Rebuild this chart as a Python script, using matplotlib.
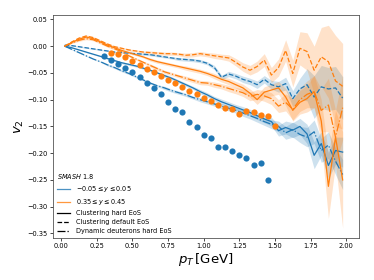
# -*- coding: utf-8 -*-
"""
v2 of deuterons vs pT, SMASH 1.8 clustering / dynamic deuterons
compared to data points at mid and forward rapidity
"""

import numpy as np
import matplotlib
matplotlib.use("Agg")
import matplotlib.pyplot as plt
from matplotlib.lines import Line2D

# pT bin centres of the model curves
pt = [0.025, 0.075, 0.125, 0.175, 0.225, 0.275, 0.325, 0.375, 0.425, 0.475,
      0.525, 0.575, 0.625, 0.675, 0.725, 0.775, 0.825, 0.875, 0.925, 0.975,
      1.025, 1.075, 1.125, 1.175, 1.225, 1.275, 1.325, 1.375, 1.425, 1.475,
      1.525, 1.575, 1.625, 1.675, 1.725, 1.775, 1.825, 1.875, 1.925, 1.975]

# mid rapidity (-0.05 < y < 0.05)
mid_hard = [0.000, -0.003, -0.007, -0.011, -0.015, -0.019, -0.023, -0.027, -0.031, -0.034,
            -0.037, -0.041, -0.045, -0.050, -0.055, -0.060, -0.066, -0.072, -0.078, -0.085,
            -0.091, -0.098, -0.104, -0.109, -0.114, -0.119, -0.124, -0.130, -0.136, -0.141,
            -0.158, -0.152, -0.157, -0.150, -0.164, -0.204, -0.182, -0.223, -0.195, -0.198]
mid_hard_err = [0.001, 0.001, 0.001, 0.001, 0.001, 0.001, 0.002, 0.002, 0.002, 0.002,
                0.002, 0.002, 0.002, 0.002, 0.003, 0.003, 0.003, 0.003, 0.003, 0.004,
                0.004, 0.004, 0.005, 0.005, 0.005, 0.006, 0.006, 0.007, 0.007, 0.008,
                0.010, 0.012, 0.014, 0.015, 0.018, 0.025, 0.022, 0.025, 0.025, 0.028]

mid_default = [0.002, 0.001, -0.001, -0.003, -0.005, -0.007, -0.009, -0.011, -0.012, -0.013,
               -0.014, -0.015, -0.016, -0.018, -0.020, -0.022, -0.024, -0.025, -0.026, -0.028,
               -0.032, -0.040, -0.058, -0.052, -0.056, -0.062, -0.066, -0.072, -0.062, -0.072,
               -0.076, -0.070, -0.098, -0.080, -0.072, -0.095, -0.076, -0.080, -0.078, -0.097]
mid_default_err = [0.001, 0.001, 0.001, 0.001, 0.001, 0.001, 0.001, 0.001, 0.001, 0.001,
                   0.002, 0.002, 0.002, 0.002, 0.002, 0.002, 0.003, 0.003, 0.003, 0.003,
                   0.003, 0.004, 0.004, 0.005, 0.005, 0.006, 0.006, 0.007, 0.007, 0.008,
                   0.010, 0.012, 0.015, 0.020, 0.030, 0.040, 0.040, 0.040, 0.040, 0.040]

mid_dyn = [0.000, -0.006, -0.012, -0.018, -0.024, -0.029, -0.035, -0.040, -0.046, -0.051,
           -0.057, -0.063, -0.069, -0.074, -0.078, -0.083, -0.087, -0.091, -0.096, -0.100,
           -0.104, -0.108, -0.112, -0.116, -0.120, -0.125, -0.130, -0.135, -0.141, -0.146,
           -0.150, -0.162, -0.156, -0.165, -0.170, -0.160, -0.195, -0.185, -0.215, -0.240]
mid_dyn_err = [0.001, 0.001, 0.001, 0.001, 0.001, 0.001, 0.002, 0.002, 0.002, 0.002,
               0.002, 0.002, 0.002, 0.002, 0.003, 0.003, 0.003, 0.003, 0.003, 0.004,
               0.004, 0.004, 0.005, 0.005, 0.005, 0.006, 0.006, 0.007, 0.007, 0.008,
               0.010, 0.012, 0.014, 0.015, 0.018, 0.022, 0.022, 0.025, 0.025, 0.028]

# forward rapidity (0.35 < y < 0.45)
fwd_hard = [0.000, 0.007, 0.013, 0.017, 0.014, 0.008, 0.002, -0.003, -0.008, -0.012,
            -0.016, -0.020, -0.025, -0.029, -0.032, -0.035, -0.038, -0.041, -0.044, -0.047,
            -0.051, -0.056, -0.062, -0.066, -0.072, -0.078, -0.088, -0.100, -0.086, -0.082,
            -0.078, -0.095, -0.120, -0.105, -0.098, -0.085, -0.140, -0.262, -0.170, -0.250]
fwd_hard_err = [0.001, 0.001, 0.002, 0.002, 0.002, 0.002, 0.002, 0.002, 0.002, 0.002,
                0.002, 0.002, 0.003, 0.003, 0.003, 0.003, 0.003, 0.004, 0.004, 0.004,
                0.004, 0.005, 0.005, 0.006, 0.006, 0.007, 0.008, 0.009, 0.010, 0.011,
                0.012, 0.016, 0.020, 0.022, 0.025, 0.030, 0.040, 0.060, 0.050, 0.090]

fwd_default = [0.000, 0.008, 0.015, 0.019, 0.016, 0.010, 0.004, -0.001, -0.004, -0.007,
               -0.009, -0.011, -0.012, -0.013, -0.014, -0.014, -0.015, -0.017, -0.016, -0.014,
               -0.016, -0.018, -0.020, -0.022, -0.030, -0.039, -0.045, -0.038, -0.026, -0.054,
               -0.040, -0.008, -0.051, -0.004, -0.010, -0.045, -0.020, -0.029, -0.065, -0.075]
fwd_default_err = [0.001, 0.001, 0.002, 0.002, 0.002, 0.002, 0.002, 0.002, 0.002, 0.002,
                   0.002, 0.002, 0.003, 0.003, 0.003, 0.003, 0.003, 0.004, 0.004, 0.004,
                   0.004, 0.005, 0.005, 0.006, 0.007, 0.008, 0.009, 0.010, 0.012, 0.014,
                   0.016, 0.020, 0.025, 0.031, 0.035, 0.045, 0.055, 0.068, 0.085, 0.080]

fwd_dyn = [0.000, 0.006, 0.011, 0.014, 0.012, 0.006, 0.000, -0.005, -0.010, -0.018,
           -0.024, -0.030, -0.036, -0.042, -0.048, -0.052, -0.056, -0.060, -0.064, -0.068,
           -0.069, -0.072, -0.075, -0.079, -0.083, -0.087, -0.094, -0.090, -0.093, -0.098,
           -0.112, -0.105, -0.118, -0.100, -0.090, -0.085, -0.120, -0.110, -0.170, -0.115]
fwd_dyn_err = [0.001, 0.001, 0.002, 0.002, 0.002, 0.002, 0.002, 0.002, 0.002, 0.002,
               0.002, 0.002, 0.003, 0.003, 0.003, 0.003, 0.003, 0.004, 0.004, 0.004,
               0.004, 0.005, 0.005, 0.006, 0.006, 0.007, 0.008, 0.009, 0.010, 0.011,
               0.012, 0.016, 0.020, 0.022, 0.025, 0.030, 0.040, 0.050, 0.050, 0.060]

# data points
pt_mid_data = [0.30, 0.35, 0.40, 0.45, 0.50, 0.55, 0.60, 0.65, 0.70, 0.75, 0.80, 0.85,
               0.90, 0.95, 1.00, 1.05, 1.10, 1.15, 1.20, 1.25, 1.30, 1.35, 1.40, 1.45]
v2_mid_data = [-0.019, -0.025, -0.033, -0.040, -0.049, -0.058, -0.069, -0.079, -0.090, -0.104,
               -0.117, -0.123, -0.141, -0.151, -0.166, -0.171, -0.188, -0.189, -0.196, -0.204,
               -0.209, -0.222, -0.219, -0.251]

pt_fwd_data = [0.35, 0.40, 0.45, 0.50, 0.55, 0.60, 0.65, 0.70, 0.75, 0.80, 0.85, 0.90,
               0.95, 1.00, 1.05, 1.10, 1.15, 1.20, 1.25, 1.30, 1.35, 1.40, 1.45, 1.50]
v2_fwd_data = [-0.012, -0.015, -0.021, -0.028, -0.035, -0.042, -0.049, -0.056, -0.064, -0.069,
               -0.077, -0.084, -0.089, -0.096, -0.102, -0.110, -0.115, -0.118, -0.126, -0.121,
               -0.123, -0.129, -0.130, -0.149]

BLUE = "#1f77b4"
ORANGE = "#ff7f0e"


def curve(ax, x, y, err, color, ls):
    y = np.array(y)
    err = np.array(err)
    ax.fill_between(x, y - err, y + err, color=color, alpha=0.22, linewidth=0)
    ax.plot(x, y, color=color, linestyle=ls, linewidth=0.9)


def main():
    fig = plt.figure(figsize=(3.74, 2.8), dpi=100)
    ax = fig.add_axes([0.1426, 0.151, 0.8174, 0.7965])

    curve(ax, pt, mid_hard, mid_hard_err, BLUE, "-")
    curve(ax, pt, mid_default, mid_default_err, BLUE, "--")
    curve(ax, pt, mid_dyn, mid_dyn_err, BLUE, "-.")
    curve(ax, pt, fwd_hard, fwd_hard_err, ORANGE, "-")
    curve(ax, pt, fwd_default, fwd_default_err, ORANGE, "--")
    curve(ax, pt, fwd_dyn, fwd_dyn_err, ORANGE, "-.")

    ax.scatter(pt_mid_data, v2_mid_data, s=20, color=BLUE, zorder=3, linewidths=0)
    ax.scatter(pt_fwd_data, v2_fwd_data, s=20, color=ORANGE, zorder=3, linewidths=0)

    ax.set_xlim(-0.055, 2.09)
    ax.set_ylim(-0.358, 0.0588)
    ax.set_xticks([0.0, 0.25, 0.5, 0.75, 1.0, 1.25, 1.5, 1.75, 2.0])
    ax.set_yticks([0.05, 0.0, -0.05, -0.10, -0.15, -0.20, -0.25, -0.30, -0.35])
    ax.tick_params(labelsize=4.8, length=2, width=0.5, pad=2)
    for sp in ax.spines.values():
        sp.set_linewidth(0.6)
        sp.set_color("#555555")

    ax.set_xlabel(r"$p_T\,$[GeV]", fontsize=9.5, labelpad=1)
    ax.set_ylabel(r"$v_2$", fontsize=9.5, labelpad=1)

    handles = [
        Line2D([], [], color=BLUE, lw=0.9, alpha=0.8),
        Line2D([], [], color=ORANGE, lw=0.9, alpha=0.8),
        Line2D([], [], color="black", lw=0.9, ls="-"),
        Line2D([], [], color="black", lw=0.9, ls="--"),
        Line2D([], [], color="black", lw=0.9, ls="-."),
    ]
    labels = [r"$-0.05 \leq y \leq 0.05$", r"$0.35 \leq y \leq 0.45$",
              "Clustering hard EoS", "Clustering default EoS",
              "Dynamic deuterons hard EoS"]
    ax.legend(handles, labels, loc="lower left", frameon=False,
              fontsize=4.7, title=r"$\it{SMASH}$ 1.8", title_fontsize=4.7,
              alignment="left", handlelength=2.0, borderaxespad=0.2,
              labelspacing=0.45)

    fig.savefig("out.png", dpi=100)


if __name__ == "__main__":
    main()
